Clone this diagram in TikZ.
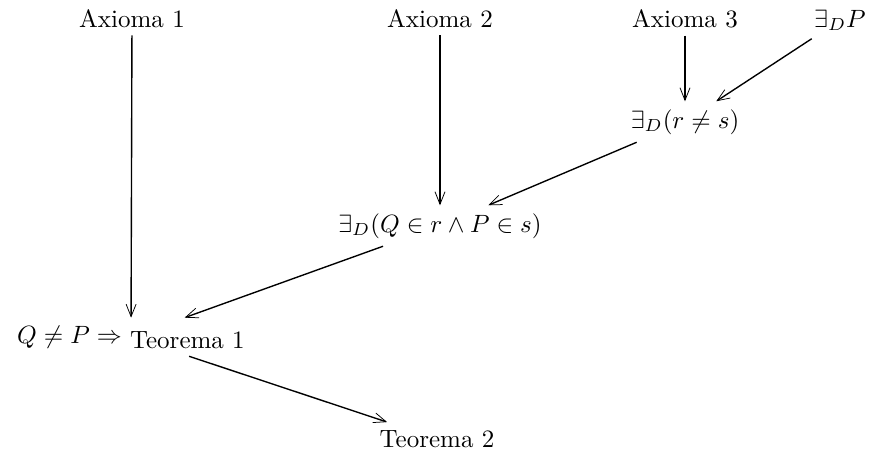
\documentclass[tikz,border=0pt]{standalone}
\usetikzlibrary{arrows.meta}

\begin{document}
\begin{tikzpicture}[
  x=0.4pt, y=-0.4pt,
  lbl/.style={anchor=base, inner sep=3pt},
  arr/.style={-{Straight Barb[length=5pt,width=4pt,line width=0.3pt]}, line width=0.55pt}
]
  \useasboundingbox (0,0) rectangle (876,454);

  \node[lbl] (ax1)  at (132,27)  {Axioma 1};
  \node[lbl] (ax2)  at (440,27)  {Axioma 2};
  \node[lbl] (ax3)  at (685,27)  {Axioma 3};
  \node[lbl] (exP)  at (840,27)  {$\exists_D P$};
  \node[lbl] (exrs) at (685,128) {$\exists_D(r\neq s)$};
  \node[lbl] (exQP) at (440,232) {$\exists_D(Q\in r\wedge P\in s)$};
  \node[lbl] (teo1) at (131,343) {$Q\neq P\Rightarrow$\ \raisebox{-2pt}{Teorema 1}};
  \node[lbl] (teo2) at (437,447) {Teorema 2};

  \draw[arr] (ax1)  -- (teo1);
  \draw[arr] (ax2)  -- (exQP);
  \draw[arr] (ax3)  -- (exrs);
  \draw[arr] (exP)  -- (exrs);
  \draw[arr] (exrs) -- (exQP);
  \draw[arr] (exQP) -- (teo1);
  \draw[arr] (teo1) -- (teo2);
\end{tikzpicture}
\end{document}
